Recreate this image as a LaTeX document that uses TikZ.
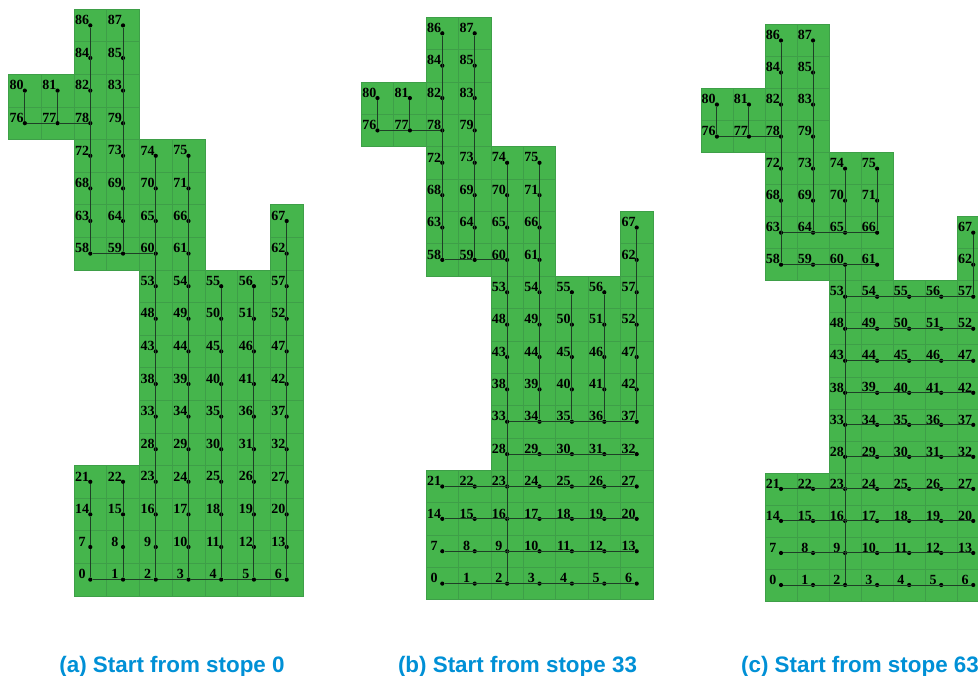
\documentclass[tikz,border=0pt]{standalone}
\usepackage{fontspec}
\setmainfont{Liberation Serif}
\newfontfamily\capfont{Liberation Sans}
\definecolor{stopegreen}{HTML}{45B54C}
\definecolor{gridgreen}{HTML}{3E9F48}
\definecolor{routegray}{HTML}{1E3F26}
\definecolor{capblue}{HTML}{0090D6}

% id/column/row of every stope
\newcommand{\stopelist}{0/0/0,1/1/0,2/2/0,3/3/0,4/4/0,5/5/0,6/6/0,
7/0/1,8/1/1,9/2/1,10/3/1,11/4/1,12/5/1,13/6/1,
14/0/2,15/1/2,16/2/2,17/3/2,18/4/2,19/5/2,20/6/2,
21/0/3,22/1/3,23/2/3,24/3/3,25/4/3,26/5/3,27/6/3,
28/2/4,29/3/4,30/4/4,31/5/4,32/6/4,
33/2/5,34/3/5,35/4/5,36/5/5,37/6/5,
38/2/6,39/3/6,40/4/6,41/5/6,42/6/6,
43/2/7,44/3/7,45/4/7,46/5/7,47/6/7,
48/2/8,49/3/8,50/4/8,51/5/8,52/6/8,
53/2/9,54/3/9,55/4/9,56/5/9,57/6/9,
58/0/10,59/1/10,60/2/10,61/3/10,62/6/10,
63/0/11,64/1/11,65/2/11,66/3/11,67/6/11,
68/0/12,69/1/12,70/2/12,71/3/12,
72/0/13,73/1/13,74/2/13,75/3/13,
76/-2/14,77/-1/14,78/0/14,79/1/14,
80/-2/15,81/-1/15,82/0/15,83/1/15,
84/0/16,85/1/16,
86/0/17,87/1/17}

\begin{document}
\begin{tikzpicture}[x=1pt,y=-1pt]

% Define styles
\tikzstyle{cell} = [draw=gridgreen, fill=stopegreen, line width=0.6pt]
\tikzstyle{dot} = [circle, fill=black, inner sep=0pt, minimum size=4.2pt]
\tikzstyle{num} = [inner sep=0pt, font=\fontsize{14}{15}\selectfont\bfseries, text=black]
\tikzstyle{route} = [draw=routegray, line width=1pt]
\tikzstyle{caption} = [inner sep=0pt, text=capblue, font=\capfont\fontsize{22.4}{26}\selectfont\bfseries]

\useasboundingbox (0,0) rectangle (978,676);
\clip (0,0) rectangle (978,676);

% Stopes of the three panels
\foreach \p/\X/\Y/\CX/\CY in {a/90.3/579.6/32.73/32.6, b/442.3/583.6/32.4/32.37, c/781/585/32.04/32.03} {
  \foreach \n/\c/\r in \stopelist {
    \path [cell] (\X+\c*\CX-0.5*\CX, \Y-\r*\CY-0.5*\CY) rectangle ++(\CX,\CY);
  }
  \foreach \n/\c/\r in \stopelist {
    \node (\p\n) [dot] at (\X+\c*\CX, \Y-\r*\CY) {};
    \node (t\p\n) [num, xshift=-8.2pt, yshift=5.4pt] at (\p\n) {\n};
  }
}

% Routes (a)
\draw [route] (a0) -- (a1) -- (a2) -- (a3) -- (a4) -- (a5) -- (a6);
\draw [route] (a0) -- (a7) -- (a14) -- (a21);
\draw [route] (a1) -- (a8) -- (a15) -- (a22);
\draw [route] (a2) -- (a74);
\draw [route] (a3) -- (a75);
\draw [route] (a4) -- (a55);
\draw [route] (a5) -- (a56);
\draw [route] (a6) -- (a67);
\draw [route] (a60) -- (a59) -- (a58);
\draw [route] (a58) -- (a86);
\draw [route] (a59) -- (a87);
\draw [route] (a78) -- (a77) -- (a76) -- (a80);
\draw [route] (a77) -- (a81);

% Routes (b)
\draw [route] (b2) -- (b74);
\draw [route] (b0) -- (b6);
\draw [route] (b7) -- (b13);
\draw [route] (b14) -- (b20);
\draw [route] (b21) -- (b27);
\draw [route] (b28) -- (b32);
\draw [route] (b33) -- (b37);
\draw [route] (b34) -- (b75);
\draw [route] (b35) -- (b55);
\draw [route] (b36) -- (b56);
\draw [route] (b37) -- (b67);
\draw [route] (b60) -- (b59) -- (b58);
\draw [route] (b58) -- (b86);
\draw [route] (b59) -- (b87);
\draw [route] (b78) -- (b77) -- (b76) -- (b80);
\draw [route] (b77) -- (b81);

% Routes (c)
\draw [route] (c2) -- (c60);
\draw [route] (c0) -- (c6);
\draw [route] (c7) -- (c13);
\draw [route] (c14) -- (c20);
\draw [route] (c21) -- (c27);
\draw [route] (c28) -- (c32);
\draw [route] (c33) -- (c37);
\draw [route] (c38) -- (c42);
\draw [route] (c43) -- (c47);
\draw [route] (c48) -- (c52);
\draw [route] (c53) -- (c57);
\draw [route] (c57) -- (c67);
\draw [route] (c58) -- (c61);
\draw [route] (c63) -- (c66);
\draw [route] (c58) -- (c86);
\draw [route] (c64) -- (c87);
\draw [route] (c65) -- (c74);
\draw [route] (c66) -- (c75);
\draw [route] (c78) -- (c77) -- (c76) -- (c80);
\draw [route] (c77) -- (c81);

% Captions
\node (capa) [caption] at (172,666.5) {(a) Start from stope 0};
\node (capb) [caption] at (517.5,666.5) {(b) Start from stope 33};
\node (capc) [caption] at (860,666.5) {(c) Start from stope 63};

\end{tikzpicture}
\end{document}
